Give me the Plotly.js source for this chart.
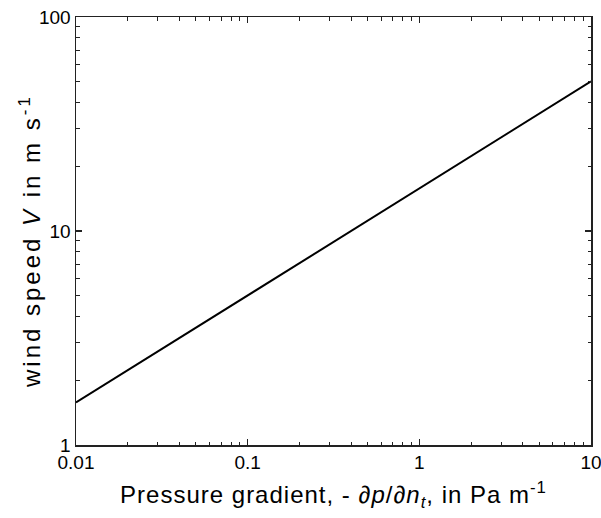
<!DOCTYPE html>
<html>
<head>
<meta charset="utf-8">
<script src="https://cdn.plot.ly/plotly-3.0.1.min.js"></script>
<style>
html,body{margin:0;padding:0;background:#fff;}
#chart{width:601px;height:518px;}
.xtitle{letter-spacing:1px;}
.annotation-text{letter-spacing:3px;}
</style>
</head>
<body>
<div id="chart"></div>
<script>
const pressureGradient = [0.01, 0.03, 0.1, 0.3, 1, 3, 10];
const windSpeed = [1.58, 2.74, 5.0, 8.66, 15.8, 27.4, 50];
const xTickVals = [0.01, 0.1, 1, 10];
const xTickText = ['0.01', '0.1', '1', '10'];
const yTickVals = [1, 10, 100];
const yTickText = ['1', '10', '100'];

const font = 'Arial, "Liberation Sans", sans-serif';
const axisCommon = {
  type: 'log',
  showline: true, linecolor: '#222', linewidth: 1.5,
  mirror: 'ticks',
  ticks: 'inside', ticklen: 6, tickwidth: 1.2, tickcolor: '#222',
  showgrid: false, zeroline: false,
  ticklabeloverflow: 'allow',
  tickfont: {family: font, size: 19, color: '#000'},
  minor: {ticks: 'inside', ticklen: 3.5, tickwidth: 1, tickcolor: '#222', dtick: 'D1', showgrid: false}
};

Plotly.newPlot('chart', [{
  x: pressureGradient, y: windSpeed, type: 'scatter', mode: 'lines',
  line: {color: '#000', width: 2}
}], {
  width: 601, height: 518,
  margin: {l: 76, r: 10, t: 17, b: 73},
  paper_bgcolor: '#fff', plot_bgcolor: '#fff',
  showlegend: false,
  xaxis: Object.assign({}, axisCommon, {
    range: [-2, 1], tickvals: xTickVals, ticktext: xTickText,
    title: {text: 'Pressure gradient, - ∂<i>p</i>/∂<i>n<sub>t</sub></i>, in Pa m<sup>-1</sup>', font: {family: font, size: 24, color: '#000'}, standoff: 14}
  }),
  yaxis: Object.assign({}, axisCommon, {
    range: [0, 2], tickvals: yTickVals, ticktext: yTickText
  }),
  annotations: [{
    text: 'wind speed <i>V</i> in m s<sup>-1</sup>',
    xref: 'paper', yref: 'paper', x: 0, y: 0.5,
    xanchor: 'center', yanchor: 'middle', xshift: -46, yshift: -10,
    textangle: -90, showarrow: false,
    font: {family: font, size: 24, color: '#000'}
  }]
}, {staticPlot: true});
</script>
</body>
</html>
